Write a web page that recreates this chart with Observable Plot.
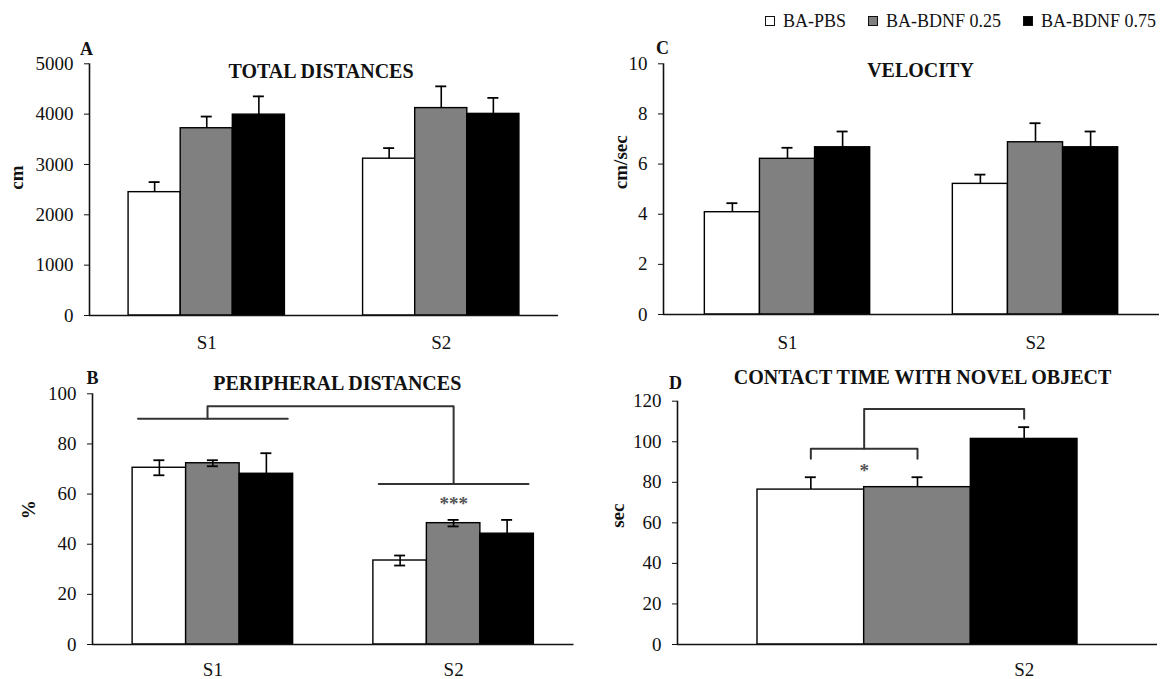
<!DOCTYPE html>
<html><head><meta charset="utf-8">
<script src="https://cdn.jsdelivr.net/npm/d3@7"></script>
<script src="https://cdn.jsdelivr.net/npm/@observablehq/plot@0.6"></script>
<style>
body{margin:0;background:#fff;}
#wrap{position:relative;width:1164px;height:679px;overflow:hidden;font-family:"Liberation Serif","Times New Roman",serif;color:#111;}
.panel{position:absolute;}
#legend{position:absolute;left:765px;top:10px;display:flex;align-items:center;font-size:18px;line-height:22px;white-space:nowrap;}
#legend .item{display:flex;align-items:center;margin-right:22px;}
#legend .item:last-child{margin-right:0;}
#legend .sw{width:10px;height:10px;border:1px solid #111;margin-right:8px;box-sizing:border-box;}
</style></head><body><div id="wrap"><div id="legend"></div></div>
<script>
// ---- data ----
const groups = ["BA-PBS", "BA-BDNF 0.25", "BA-BDNF 0.75"];
const groupColors = ["#ffffff", "#808080", "#000000"];
const sessions = ["S1", "S2"];

// A: total distances (cm)
const totalMean = [[2450, 3720, 3990], [3115, 4120, 4005]];
const totalErr  = [[200, 232, 363], [210, 432, 318]];
// C: velocity (cm/sec)
const velMean = [[4.08, 6.21, 6.67], [5.21, 6.87, 6.67]];
const velErr  = [[0.36, 0.44, 0.63], [0.37, 0.76, 0.63]];
// B: peripheral distances (%)
const periMean = [[70.5, 72.3, 68.1], [33.5, 48.4, 44.2]];
const periErr  = [[3.0, 1.2, 8.2], [2.0, 1.3, 5.5]];
// D: contact time with novel object (sec), S2 only
const contactSessions = ["S2"];
const contactMean = [[76.4, 77.6, 101.4]];
const contactErr  = [[6.1, 4.9, 5.8]];

// significance annotations (data units: bar index / value)
const periBrackets = [
  {k: 1, x: 0.1, y: 90}, {k: 1, x: 2.9, y: 90},
  {k: 2, x: 1.4, y: 90}, {k: 2, x: 1.4, y: 95}, {k: 2, x: 6.0, y: 95}, {k: 2, x: 6.0, y: 64},
  {k: 3, x: 4.6, y: 64}, {k: 3, x: 7.4, y: 64}
];
const periStars = [{x: 6.0, y: 56, t: "***"}];
const contactBrackets = [
  {k: 1, x: 0.5, y: 91.6}, {k: 1, x: 0.5, y: 96.5}, {k: 1, x: 1.5, y: 96.5}, {k: 1, x: 1.5, y: 91.6},
  {k: 2, x: 1.0, y: 96.5}, {k: 2, x: 1.0, y: 116.2}, {k: 2, x: 2.5, y: 116.2}, {k: 2, x: 2.5, y: 111.3}
];
const contactStars = [{x: 1.0, y: 85.8, t: "*"}];

// ---- helpers ----
const FONT = "Liberation Serif, Times New Roman, serif";
const STEP = 4.5;

function buildRows(sessList, means, errs) {
  const rows = [];
  sessList.forEach((s, si) => groups.forEach((g, gi) => {
    const x1 = si * STEP + gi;
    rows.push({session: s, group: g, value: means[si][gi], err: errs[si][gi], x1, x2: x1 + 1, xc: x1 + 0.5});
  }));
  return rows;
}

function panel(cfg) {
  const rows = buildRows(cfg.sessions, cfg.means, cfg.errs);
  const unitPx = (cfg.width - cfg.ml - cfg.mr) / (cfg.xDomain[1] - cfg.xDomain[0]);
  const cap = 5.5 / unitPx;
  const tickPos = cfg.sessions.map((s, si) => si * STEP + cfg.labelAt);
  const tickName = new Map(tickPos.map((p, i) => [p, cfg.sessions[i]]));
  const marks = [
    Plot.rect(rows, {x1: "x1", x2: "x2", y1: () => 0, y2: "value", fill: "group", stroke: "#000", strokeWidth: 1.4}),
    Plot.ruleX(rows, {x: "xc", y1: d => cfg.sym ? d.value - d.err : d.value, y2: d => d.value + d.err, stroke: "#000", strokeWidth: 1.6}),
    Plot.ruleY(rows, {y: d => d.value + d.err, x1: d => d.xc - cap, x2: d => d.xc + cap, stroke: "#000", strokeWidth: 1.8}),
  ];
  if (cfg.sym) marks.push(Plot.ruleY(rows, {y: d => d.value - d.err, x1: d => d.xc - cap, x2: d => d.xc + cap, stroke: "#000", strokeWidth: 1.8}));
  marks.push(
    Plot.ruleX([cfg.xDomain[0]], {y1: cfg.yDomain[0], y2: cfg.yDomain[1], stroke: "#111", strokeWidth: 1.6}),
    Plot.ruleY([0], {stroke: "#111", strokeWidth: 1.6}),
    Plot.axisY({ticks: cfg.yTicks, tickFormat: d => String(d), tickSize: 5, tickPadding: 11, fontSize: 19, label: null, stroke: "#111"}),
    Plot.axisX({ticks: tickPos, tickFormat: d => tickName.get(d), tickSize: 0, tickPadding: cfg.xPad, fontSize: 19, label: null}),
    Plot.text([cfg.title], {frameAnchor: "top", dx: cfg.titleDx, dy: cfg.titleDy, lineAnchor: "middle", fontWeight: "bold", fontSize: 20}),
    Plot.text([cfg.letter], {frameAnchor: "top-left", dx: cfg.letterDx, dy: cfg.letterDy, lineAnchor: "middle", textAnchor: "middle", fontWeight: "bold", fontSize: 18}),
    Plot.text([cfg.ylabel], {frameAnchor: "left", rotate: -90, dx: cfg.ylabelDx, dy: cfg.ylabelDy, lineAnchor: "middle", fontWeight: "bold", fontSize: 19})
  );
  if (cfg.brackets) marks.push(Plot.line(cfg.brackets, {x: "x", y: "y", z: "k", stroke: "#333", strokeWidth: 2, curve: "linear"}));
  if (cfg.stars) marks.push(Plot.text(cfg.stars, {x: "x", y: "y", text: "t", fontSize: 19, fontWeight: "bold", fill: "#555"}));
  const svg = Plot.plot({
    width: cfg.width, height: cfg.height,
    marginLeft: cfg.ml, marginRight: cfg.mr, marginTop: cfg.mt, marginBottom: cfg.mb,
    x: {type: "linear", domain: cfg.xDomain},
    y: {domain: cfg.yDomain},
    color: {domain: groups, range: groupColors},
    style: {fontFamily: FONT, color: "#111", background: "transparent", overflow: "visible"},
    marks
  });
  svg.classList.add("panel");
  svg.style.left = cfg.left + "px";
  svg.style.top = cfg.top + "px";
  document.getElementById("wrap").appendChild(svg);
}

// A
panel({left: 0, top: 0, width: 582, height: 360, ml: 89, mr: 24, mt: 63.3, mb: 45,
  sessions, means: totalMean, errs: totalErr, sym: false,
  xDomain: [-0.75, 8.25], yDomain: [0, 5000], yTicks: [0, 1000, 2000, 3000, 4000, 5000],
  labelAt: 1.5, xPad: 20,
  title: "TOTAL DISTANCES", titleDx: -3, titleDy: 7.5,
  letter: "A", letterDx: -3, letterDy: -15,
  ylabel: "cm", ylabelDx: -73, ylabelDy: 0});
// C
panel({left: 582, top: 0, width: 582, height: 360, ml: 81, mr: 5, mt: 63.3, mb: 46,
  sessions, means: velMean, errs: velErr, sym: false,
  xDomain: [-0.75, 8.25], yDomain: [0, 10], yTicks: [0, 2, 4, 6, 8, 10],
  labelAt: 1.5, xPad: 21,
  title: "VELOCITY", titleDx: 9, titleDy: 7,
  letter: "C", letterDx: -1, letterDy: -16,
  ylabel: "cm/sec", ylabelDx: -43, ylabelDy: 0});
// B
panel({left: 0, top: 360, width: 582, height: 319, ml: 92, mr: 8.5, mt: 33.3, mb: 35,
  sessions, means: periMean, errs: periErr, sym: true,
  xDomain: [-0.75, 8.25], yDomain: [0, 100], yTicks: [0, 20, 40, 60, 80, 100],
  labelAt: 1.5, xPad: 18,
  title: "PERIPHERAL DISTANCES", titleDx: 4, titleDy: -10,
  letter: "B", letterDx: 0, letterDy: -16,
  ylabel: "%", ylabelDx: -64, ylabelDy: 0,
  brackets: periBrackets, stars: periStars});
// D
panel({left: 582, top: 360, width: 582, height: 319, ml: 95, mr: 7, mt: 40.7, mb: 35,
  sessions: contactSessions, means: contactMean, errs: contactErr, sym: false,
  xDomain: [-0.75, 3.75], yDomain: [0, 120], yTicks: [0, 20, 40, 60, 80, 100, 120],
  labelAt: 2.5, xPad: 18,
  title: "CONTACT TIME WITH NOVEL OBJECT", titleDx: 5, titleDy: -24,
  letter: "D", letterDx: -2, letterDy: -18,
  ylabel: "sec", ylabelDx: -60, ylabelDy: 5,
  brackets: contactBrackets, stars: contactStars});

// legend
const legend = document.getElementById("legend");
groups.forEach((g, i) => {
  const item = document.createElement("div");
  item.className = "item";
  const sw = document.createElement("span");
  sw.className = "sw";
  sw.style.background = groupColors[i];
  const t = document.createElement("span");
  t.textContent = g;
  item.appendChild(sw); item.appendChild(t);
  legend.appendChild(item);
});
</script></body></html>
